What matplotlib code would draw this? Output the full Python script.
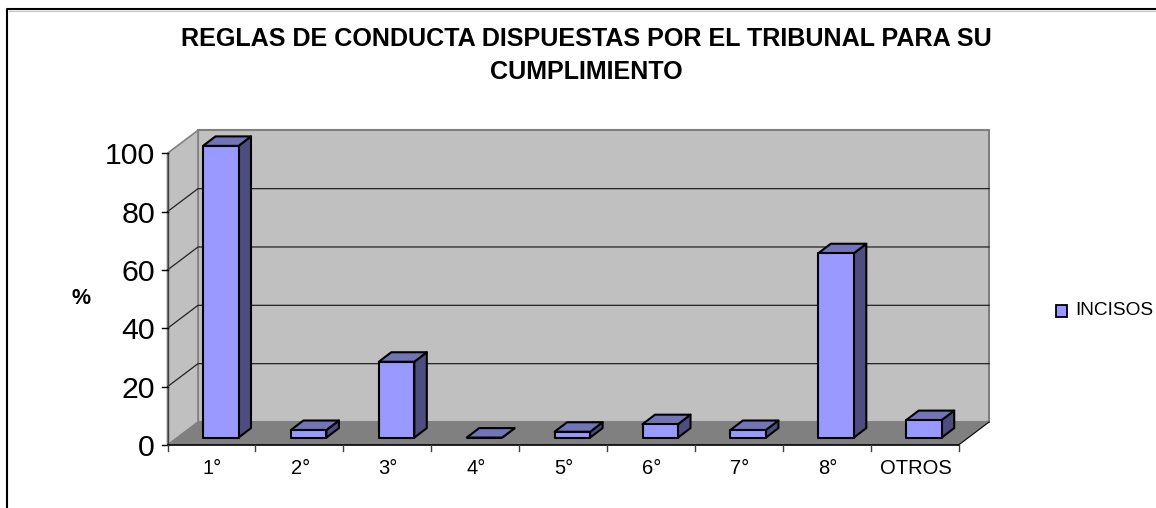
import matplotlib
matplotlib.use("Agg")
import matplotlib.pyplot as plt
from matplotlib.patches import Polygon

plt.rcParams["font.family"] = ["Liberation Sans", "DejaVu Sans"]

categories = ["1°", "2°", "3°", "4°", "5°", "6°", "7°", "8°", "OTROS"]
values = [100, 2.6, 26, 0, 2, 4.6, 2.6, 63.2, 6]
y_ticks = [0, 20, 40, 60, 80, 100]
title = "REGLAS DE CONDUCTA DISPUESTAS POR EL TRIBUNAL PARA SU\nCUMPLIMIENTO"
y_label = "%"
legend_label = "INCISOS"

W, H = 1156, 508
fig = plt.figure(figsize=(W / 100, H / 100), dpi=100)
ax = fig.add_axes([0, 0, 1, 1])

# scale of the front plane, in pixels per category and per percent
px_x = 87.9
px_y = 2.917
x0_px, y0_px = 167.5, 445
ax.set_xlim(-x0_px / px_x, (W - x0_px) / px_x)
ax.set_ylim((y0_px - H) / px_y, y0_px / px_y)
ax.axis("off")

# depth of the box and of the bars, in data units
dx = 30.5 / px_x
dy = 23 / px_y
bar_dx = 12.5 / px_x
bar_dy = 9.5 / px_y
off_x = 35.5 / px_x
off_y = 7.4 / px_y
bar_w = 35.5 / px_x
n = len(categories)
top = y_ticks[-1]

wall_col = "#c0c0c0"
floor_col = "#808080"
edge_col = "#808080"

# outer frame: only left and top are inside the picture
fig.add_artist(plt.Line2D([8.6 / W, 1], [1 - 10.8 / H, 1 - 10.8 / H], color="#c4c4c4", lw=0.8))
fig.add_artist(plt.Line2D([7.3 / W, 7.3 / W, 1], [0, 1 - 9 / H, 1 - 9 / H], color="black", lw=1.5))

# back wall, side wall, floor
ax.add_patch(Polygon([(dx, dy), (n + dx, dy), (n + dx, top + dy), (dx, top + dy)],
                     fc=wall_col, ec=edge_col, lw=1.5, zorder=1))
ax.add_patch(Polygon([(0, 0), (dx, dy), (dx, top + dy), (0, top)],
                     fc=wall_col, ec=edge_col, lw=1.2, zorder=1))
ax.add_patch(Polygon([(0, 0), (n, 0), (n + dx, dy), (dx, dy)],
                     fc=floor_col, ec="none", zorder=1))
ax.plot([n, n + dx], [0, dy], color="black", lw=0.8, zorder=2)

# gridlines
for t in y_ticks[1:-1]:
    ax.plot([0, dx, n + dx], [t, t + dy, t + dy], color="#222222", lw=0.9, zorder=2)

# axes lines and ticks
ax.plot([0, 0], [0, top], color="#404040", lw=1, zorder=2)
ax.plot([0, n], [0, 0], color="black", lw=1.2, zorder=2)
for t in y_ticks:
    ax.plot([-6 / px_x, 0], [t, t], color="black", lw=1, zorder=2)
    ax.text(-12.5 / px_x, t, str(t), ha="right", va="center_baseline", fontsize=21.8, color="black")
for i in range(n + 1):
    ax.plot([i, i], [0, -6 / px_y], color="#404040", lw=1, zorder=2)

# bars
for i, (cat, v) in enumerate(zip(categories, values)):
    x1 = i + off_x
    x2 = x1 + bar_w
    y1 = off_y
    y2 = y1 + v
    kw = dict(ec="black", lw=1.5, joinstyle="round", zorder=3 + i)
    ax.add_patch(Polygon([(x2, y1), (x2 + bar_dx, y1 + bar_dy), (x2 + bar_dx, y2 + bar_dy), (x2, y2)],
                         fc="#4d4d80", **kw))
    ax.add_patch(Polygon([(x1, y2), (x2, y2), (x2 + bar_dx, y2 + bar_dy), (x1 + bar_dx, y2 + bar_dy)],
                         fc="#7373b8", **kw))
    ax.add_patch(Polygon([(x1, y1), (x2, y1), (x2, y2), (x1, y2)], fc="#9999ff", **kw))
    ax.text(i + 0.51, -23.5 / px_y, cat, ha="center", va="center", fontsize=14.5, color="black")

# title and axis label
fig.text(586.5 / W, 1 - 55.5 / H, title, ha="center", va="center", fontsize=18.1,
         fontweight="bold", linespacing=1.48)
fig.text(81 / W, 1 - 299 / H, y_label, ha="center", va="center", fontsize=15.5, fontweight="bold")

# legend
fig.patches.append(plt.Rectangle((1055.5 / W, 1 - 317 / H), 11.5 / W, 12 / H, fc="#9999ff",
                                 ec="black", lw=1.3, transform=fig.transFigure))
fig.text(1075.5 / W, 1 - 310.5 / H, legend_label, ha="left", va="center", fontsize=13.7)

fig.savefig("out.png", dpi=100)
